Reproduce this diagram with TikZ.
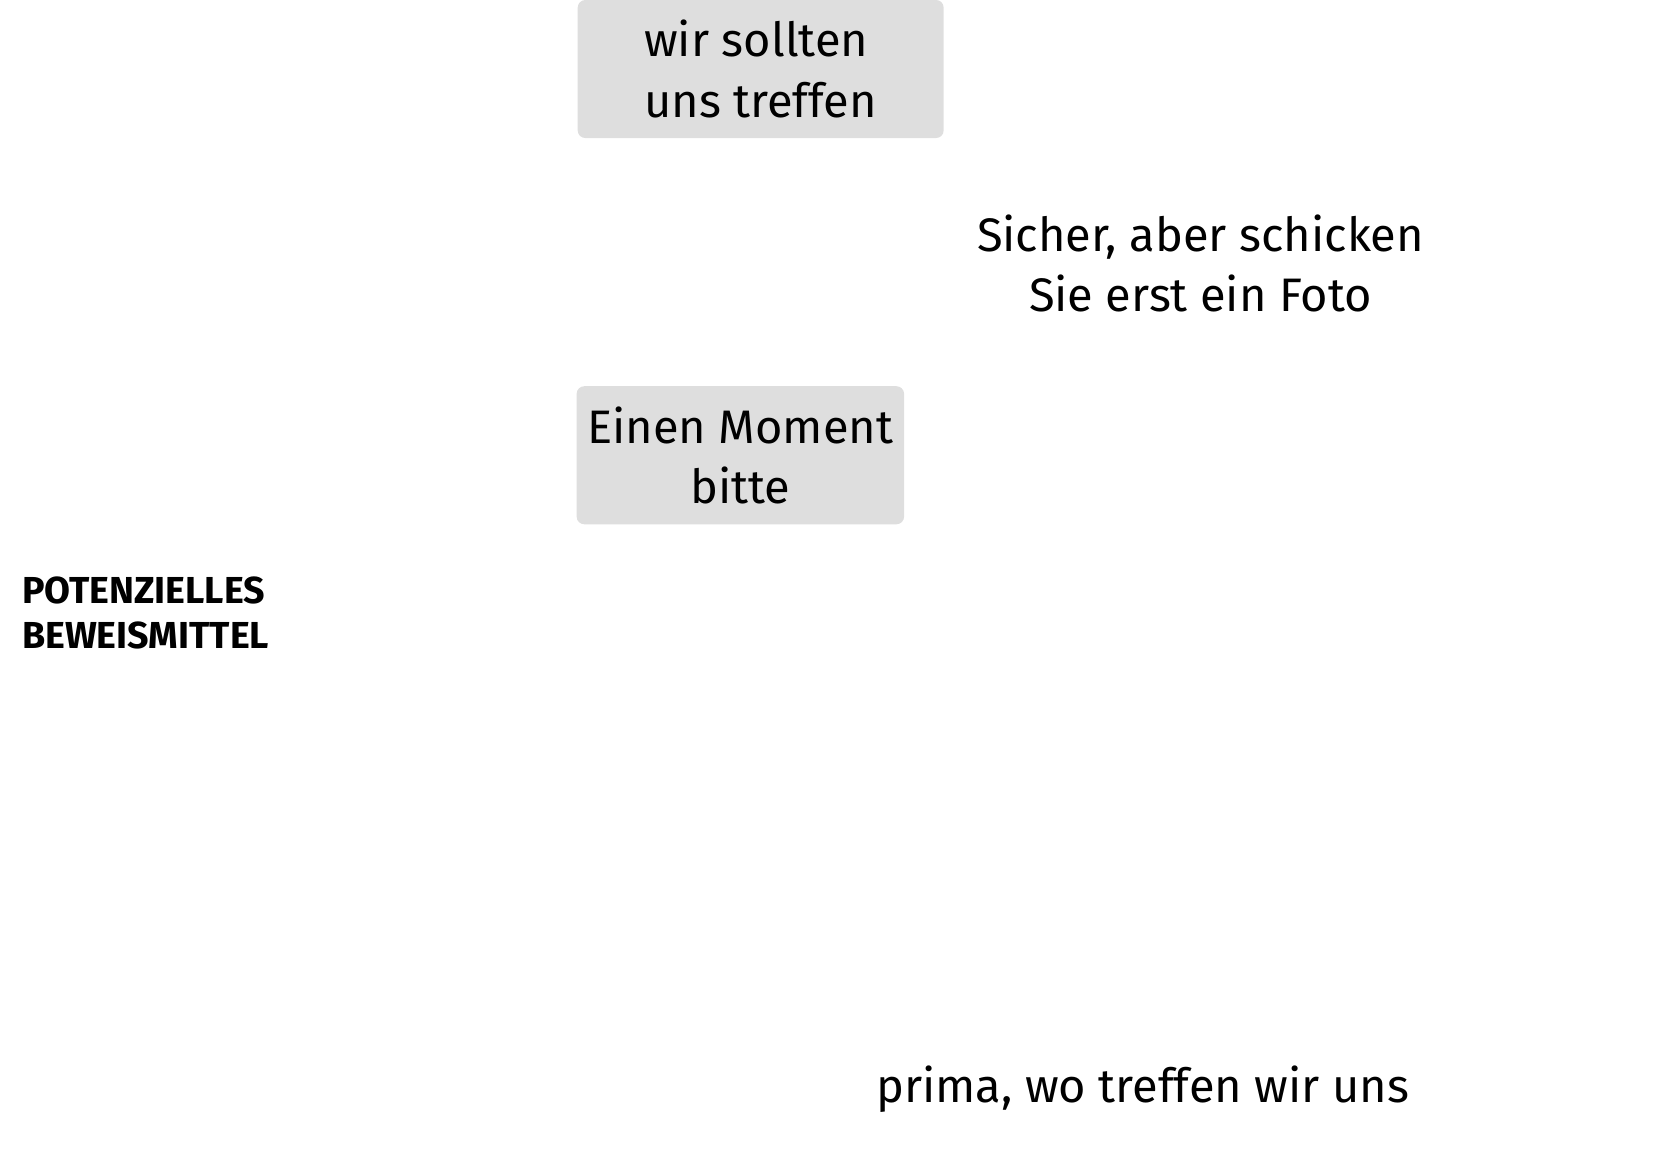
\documentclass[tikz,border=0pt]{standalone}
\usepackage{fontspec}
\setmainfont{Fira Sans}
\begin{document}
\begin{tikzpicture}[
      font=\fontsize{12.5}{16}\selectfont,
      msg/.style   ={rectangle, fill=black!13, rounded corners=2pt,
                     minimum height=1.29cm, align=center, inner sep=0pt},
      reply/.style ={align=center, inner sep=0pt},
      tag/.style   ={align=left, inner sep=0pt, anchor=north west,
                     font=\fontsize{10}{12}\selectfont\bfseries}
    ]
    \useasboundingbox (0,0) rectangle (15.6,-10.79);

    \node[msg, minimum width=3.42cm, align=left] (treffen) at (7.11,-0.645) {wir sollten\\uns treffen};
    \node[reply] (foto) at (11.22,-2.46) {Sicher, aber schicken\\Sie erst ein Foto};
    \node[msg, minimum width=3.06cm] (moment) at (6.92,-4.255) {Einen Moment\\bitte};

    \node[tag] (beweis) at (0.2,-5.38) {POTENZIELLES\\BEWEISMITTEL};

    \node[reply] (prima) at (10.68,-10.18) {prima, wo treffen wir uns};
\end{tikzpicture}
\end{document}
